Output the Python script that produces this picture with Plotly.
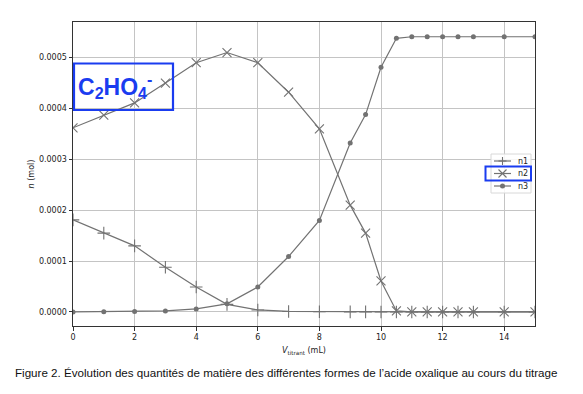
import plotly.graph_objects as go

v = [0, 1, 2, 3, 4, 5, 6, 7, 8, 9, 9.5, 10, 10.5, 11, 11.5, 12, 12.5, 13, 14, 15]
n1 = [0.000181, 0.000155, 0.000130, 0.000088, 0.000049, 0.000015, 0.000004, 0.000001,
      0.0000005, 0.0000002, 0.0000001, 0.0, 0.0, 0.0, 0.0, 0.0, 0.0, 0.0, 0.0, 0.0]
n2 = [0.000362, 0.000387, 0.000411, 0.000450, 0.000490, 0.000510, 0.000490, 0.000432,
      0.000360, 0.000210, 0.000155, 0.000061, 0.000002, 0.0, 0.0, 0.0, 0.0, 0.0, 0.0, 0.0]
n3 = [0.0, 0.0000005, 0.000001, 0.000002, 0.000006, 0.000016, 0.000049, 0.000109,
      0.000180, 0.000332, 0.000388, 0.000481, 0.000538, 0.000541, 0.000541, 0.000541,
      0.000541, 0.000541, 0.000541, 0.000541]
names = ["n1", "n2", "n3"]
xticks = [0, 2, 4, 6, 8, 10, 12, 14]
yticks = [0.0, 0.0001, 0.0002, 0.0003, 0.0004, 0.0005]

gray = "#727272"
blue = "#1a3cf0"
W, H = 583, 394
ML, MR, MT, MB = 73, 48, 22, 68
PW, PH = W - ML - MR, H - MT - MB


def px(x, y):
    """pixel position -> paper coordinates"""
    return (x - ML) / PW, (H - MB - y) / PH


fig = go.Figure()
fig.add_trace(go.Scatter(x=v, y=n1, name=names[0], mode="lines+markers",
                         line=dict(color=gray, width=1.2),
                         marker=dict(symbol="cross-thin", size=9, line=dict(color=gray, width=1.1), color=gray)))
fig.add_trace(go.Scatter(x=v, y=n2, name=names[1], mode="lines+markers",
                         line=dict(color=gray, width=1.2),
                         marker=dict(symbol="x-thin", size=9, line=dict(color=gray, width=1.1), color=gray)))
fig.add_trace(go.Scatter(x=v, y=n3, name=names[2], mode="lines+markers",
                         line=dict(color=gray, width=1.2),
                         marker=dict(symbol="circle", size=5, color=gray)))

axis_common = dict(showline=True, linecolor="#333333", linewidth=1, mirror=True,
                   ticks="outside", ticklen=3.5, tickcolor="#333333", tickwidth=0.8,
                   showgrid=True, gridcolor="#c4c4c4", gridwidth=1, zeroline=False,
                   tickfont=dict(family="DejaVu Sans", size=8, color="#222222"))

fig.update_layout(
    width=W, height=H,
    margin=dict(l=ML, r=MR, t=MT, b=MB),
    paper_bgcolor="white", plot_bgcolor="white",
    showlegend=False,
    xaxis=dict(range=[0, 15], tickvals=xticks, ticktext=[str(t) for t in xticks],
               title=dict(text="<i>V</i><sub>titrant</sub> (mL)", standoff=6,
                          font=dict(family="DejaVu Sans", size=8, color="#222222")),
               **axis_common),
    yaxis=dict(range=[-0.0000276, 0.000570], tickvals=yticks,
               ticktext=["%.4f" % t for t in yticks],
               title=dict(text="<i>n</i> (mol)", standoff=3,
                          font=dict(family="DejaVu Sans", size=8, color="#222222")),
               **axis_common),
)

shapes = []
# Blue annotation box with formula (transparent)
x0, y1 = px(74, 63.5)
x1, y0 = px(173, 110)
shapes.append(dict(type="rect", xref="paper", yref="paper", x0=x0, x1=x1, y0=y0, y1=y1,
                   line=dict(color=blue, width=2.2), fillcolor="rgba(0,0,0,0)", layer="above"))
cx, cy = px(115, 86)
fig.add_annotation(x=cx, y=cy, xref="paper", yref="paper", showarrow=False,
                   xanchor="center", yanchor="middle",
                   text="<b>C<sub>2</sub>HO<sub>4</sub><sup>-</sup></b>",
                   font=dict(family="Liberation Sans", size=23, color=blue))

# Custom legend (matplotlib-like compact legend)
lx0, ly1 = px(491, 154)
lx1, ly0 = px(531, 193)
shapes.append(dict(type="rect", xref="paper", yref="paper", x0=lx0, x1=lx1, y0=ly0, y1=ly1,
                   line=dict(color="#d8d8d8", width=1), fillcolor="rgba(255,255,255,0.85)", layer="above"))
rows = [161, 173.5, 186]
for i, ry in enumerate(rows):
    a, b = px(494, ry)
    c, _ = px(511, ry)
    shapes.append(dict(type="line", xref="paper", yref="paper", x0=a, x1=c, y0=b, y1=b,
                       line=dict(color=gray, width=1.2), layer="above"))
    tx, ty = px(516, ry)
    fig.add_annotation(x=tx, y=ty, xref="paper", yref="paper", showarrow=False,
                       xanchor="left", yanchor="middle", text=names[i],
                       font=dict(family="DejaVu Sans", size=8, color="#222222"))
mxc = 502.5
# '+' marker
for (ax, ay, bx, by) in [(mxc - 4, rows[0], mxc + 4, rows[0]), (mxc, rows[0] - 4, mxc, rows[0] + 4)]:
    p0 = px(ax, ay); p1 = px(bx, by)
    shapes.append(dict(type="line", xref="paper", yref="paper", x0=p0[0], y0=p0[1], x1=p1[0], y1=p1[1],
                       line=dict(color=gray, width=1.1), layer="above"))
# 'x' marker
for (ax, ay, bx, by) in [(mxc - 4, rows[1] - 4, mxc + 4, rows[1] + 4), (mxc - 4, rows[1] + 4, mxc + 4, rows[1] - 4)]:
    p0 = px(ax, ay); p1 = px(bx, by)
    shapes.append(dict(type="line", xref="paper", yref="paper", x0=p0[0], y0=p0[1], x1=p1[0], y1=p1[1],
                       line=dict(color=gray, width=1.1), layer="above"))
# dot marker
p0 = px(mxc - 2.5, rows[2] - 2.5); p1 = px(mxc + 2.5, rows[2] + 2.5)
shapes.append(dict(type="circle", xref="paper", yref="paper", x0=p0[0], y0=p1[1], x1=p1[0], y1=p0[1],
                   line=dict(color=gray, width=0), fillcolor=gray, layer="above"))
# Blue rectangle around n2 legend entry
b0 = px(485.5, 180.5); b1 = px(531, 166.5)
shapes.append(dict(type="rect", xref="paper", yref="paper", x0=b0[0], x1=b1[0], y0=b0[1], y1=b1[1],
                   line=dict(color=blue, width=2), fillcolor="rgba(0,0,0,0)", layer="above"))
fig.update_layout(shapes=shapes)

capx, capy = px(286, 372)
fig.add_annotation(x=capx, y=capy, xref="paper", yref="paper", showarrow=False,
                   xanchor="center", yanchor="middle",
                   text="Figure 2. Évolution des quantités de matière des différentes formes de l’acide oxalique au cours du titrage",
                   font=dict(family="Liberation Sans", size=11.6, color="#111111"))

fig.write_html("out.html")
